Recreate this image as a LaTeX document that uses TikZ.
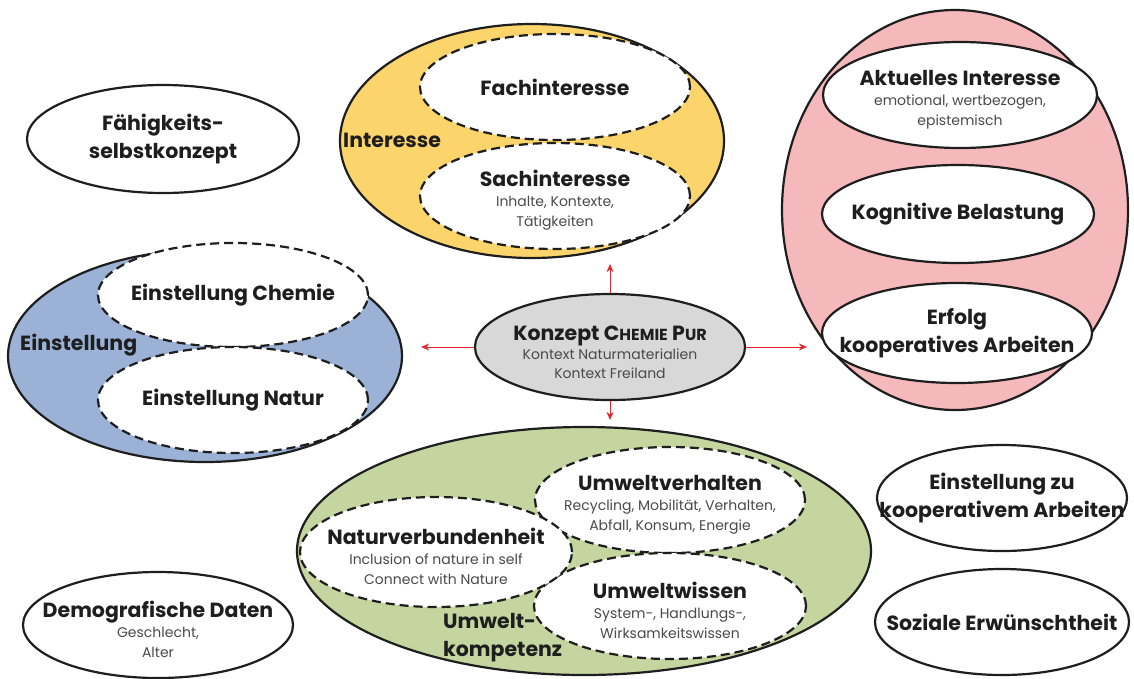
\documentclass[tikz,border=0pt]{standalone}
\usepackage{fontspec}
\setmainfont{Poppins}
\usetikzlibrary{arrows.meta,shapes.geometric}
\definecolor{intyellow}{HTML}{FBD46C}
\definecolor{einblue}{HTML}{9BB2D6}
\definecolor{prozpink}{HTML}{F6B9BB}
\definecolor{umgreen}{HTML}{C4D59F}
\definecolor{kongray}{HTML}{D8D8D8}
\definecolor{arrred}{HTML}{E0272B}
\definecolor{subgray}{HTML}{4A4A4A}
\definecolor{ink}{HTML}{1E1E1E}
\newcommand{\hdtext}{\fontsize{20.5}{28}\selectfont\bfseries}
\newcommand{\sbtext}{\fontsize{14}{20}\selectfont\mdseries\color{subgray}}
\newcommand{\scfont}{\fontsize{16}{20}\selectfont}
\newcommand{\topgap}{\rule{0pt}{25pt}}

\begin{document}
\begin{tikzpicture}[x=1pt, y=-1pt,
  bag/.style={ellipse, draw=ink, line width=2.2pt, inner xsep=-60pt, inner ysep=0pt,
    align=center, font=\hdtext, text=ink},
  part/.style={bag, fill=white, dash pattern=on 9pt off 5pt},
  solo/.style={bag, fill=white},
  grp/.style={font=\hdtext, text=ink, align=left, inner sep=0pt},
  wire/.style={draw=arrred, line width=1pt, -{Stealth[length=8pt,width=7pt]}}]
  \useasboundingbox (0,0) rectangle (1134,678);

  % Interesse
  \node[bag, fill=intyellow, minimum width=384pt, minimum height=234pt] (interesse) at (532,141) {};
  \node[part, minimum width=270pt, minimum height=106pt] (fach) at (555,87) {Fachinteresse};
  \node[part, minimum width=270pt, minimum height=106pt] (sach) at (555,196)
    {\topgap Sachinteresse\\[-8pt]\sbtext Inhalte, Kontexte,\\[-8pt]\sbtext Tätigkeiten};
  \node[grp, anchor=west] (interesse-l) at (343,140) {Interesse};

  % Einstellung
  \node[bag, fill=einblue, minimum width=394pt, minimum height=212pt] (einstellung) at (205,356) {};
  \node[part, minimum width=270pt, minimum height=104pt] (chemie) at (233,295) {Einstellung Chemie};
  \node[part, minimum width=270pt, minimum height=106pt] (natur) at (233,400) {Einstellung Natur};
  \node[grp, anchor=west] (einstellung-l) at (20,345) {Einstellung};

  % situative Faktoren
  \node[bag, fill=prozpink, minimum width=346pt, minimum height=400pt] (prozess) at (955,210) {};
  \node[solo, minimum width=274pt, minimum height=106pt] (aktint) at (960,95)
    {\topgap Aktuelles Interesse\\[-8pt]\sbtext emotional, wertbezogen,\\[-8pt]\sbtext epistemisch};
  \node[solo, minimum width=272pt, minimum height=98pt] (kogbel) at (958,214) {Kognitive Belastung};
  \node[solo, minimum width=270pt, minimum height=100pt] (erfolg) at (957,333) {Erfolg\\kooperatives Arbeiten};

  % Umweltkompetenz
  \node[bag, fill=umgreen, minimum width=574pt, minimum height=248pt] (umwelt) at (584,551) {};
  \node[part, minimum width=270pt, minimum height=106pt] (verhalten) at (670,500)
    {\topgap Umweltverhalten\\[-8pt]\sbtext Recycling, Mobilität, Verhalten,\\[-8pt]\sbtext Abfall, Konsum, Energie};
  \node[part, minimum width=272pt, minimum height=106pt] (wissen) at (670,606)
    {\topgap Umweltwissen\\[-8pt]\sbtext System-, Handlungs-,\\[-8pt]\sbtext Wirksamkeitswissen};
  \node[part, minimum width=272pt, minimum height=110pt] (verbund) at (436,552)
    {\topgap Naturverbundenheit\\[-8pt]\sbtext Inclusion of nature in self\\[-8pt]\sbtext Connect with Nature};
  \node[grp, anchor=west] (umwelt-l) at (443,638) {Umwelt-\\kompetenz};

  % Konzept
  \node[bag, fill=kongray, minimum width=270pt, minimum height=106pt] (konzept) at (610,347)
    {\topgap Konzept C{\scfont HEMIE} P{\scfont UR}\\[-9pt]\sbtext Kontext Naturmaterialien\\[-9pt]\sbtext Kontext Freiland};

  % weitere Variablen
  \node[solo, minimum width=272pt, minimum height=108pt] (faehig) at (163,139) {Fähigkeits-\\selbstkonzept};
  \node[solo, minimum width=250pt, minimum height=106pt] (koopeinst) at (1002,498) {Einstellung zu\\kooperativem Arbeiten};
  \node[solo, minimum width=270pt, minimum height=106pt] (demo) at (158,625)
    {\topgap Demografische Daten\\[-8pt]\sbtext Geschlecht,\\[-8pt]\sbtext Alter};
  \node[solo, minimum width=254pt, minimum height=106pt] (sozial) at (1002,622) {Soziale Erwünschtheit};

  \draw[wire, shorten >=5pt] (konzept) -- (konzept |- interesse.south);
  \draw[wire, shorten >=6pt] (konzept) -- (konzept |- umwelt.north);
  \draw[wire, shorten >=18pt] (konzept) -- (konzept -| einstellung.east);
  \draw[wire, shorten >=14pt] (konzept) -- (konzept -| erfolg.west);
\end{tikzpicture}
\end{document}
